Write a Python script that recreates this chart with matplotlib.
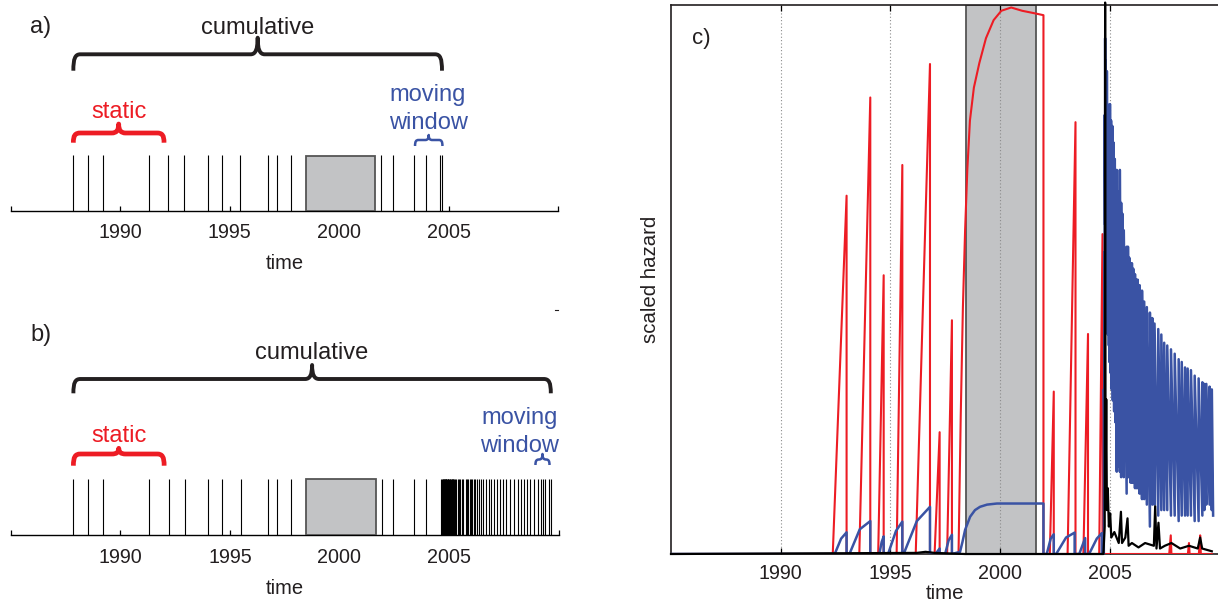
import matplotlib.pyplot as plt
from matplotlib.path import Path
from matplotlib.patches import PathPatch, Rectangle

W, H = 1218, 602

RED = '#ed1c24'
BLUE = '#3a53a4'
INK = '#231f20'
GAP_FACE = '#c2c3c5'
GAP_EDGE = '#555555'

# event times shared by panels a and b
events_early = [1987.86, 1988.54, 1989.23, 1991.33, 1992.20, 1992.93, 1994.00,
                1994.66, 1995.49, 1996.73, 1997.17, 1997.79, 2001.92, 2002.44,
                2003.40, 2003.95, 2004.62, 2004.69]
# later events, only in panel b
events_late = [2004.72, 2004.74, 2004.76, 2004.78, 2004.80, 2004.82, 2004.84,
               2004.86, 2004.88, 2004.90, 2004.93, 2004.95, 2004.97, 2005.00,
               2005.03, 2005.05, 2005.08, 2005.11, 2005.13, 2005.16, 2005.19,
               2005.22, 2005.25, 2005.31, 2005.39, 2005.45, 2005.51, 2005.57,
               2005.63, 2005.76, 2005.82, 2005.88, 2005.94, 2006.00, 2006.06,
               2006.14, 2006.20, 2006.26, 2006.35, 2006.46, 2006.56, 2006.68,
               2006.82, 2006.93, 2007.03, 2007.20, 2007.34, 2007.47, 2007.61,
               2007.78, 2007.95, 2008.13, 2008.27, 2008.42, 2008.54, 2008.69,
               2008.86, 2009.04, 2009.21, 2009.30, 2009.39, 2009.54, 2009.64]
gap = (1998.46, 2001.65)
static_win = (1987.86, 1992.0)
window_a = (2003.46, 2004.71)
window_b = (2008.94, 2009.58)
xticks = [1985, 1990, 1995, 2000, 2005, 2010]
xticklabels = ['', '1990', '1995', '2000', '2005', '']

# hazard curves for panel c (time, scaled value)
red_t = [1985.0, 1992.37, 1993.00, 1993.00, 1993.58, 1994.08, 1994.08, 1994.44,
         1994.69, 1994.69, 1995.28, 1995.54, 1995.54, 1996.15, 1996.80, 1996.80,
         1997.01, 1997.24, 1997.24, 1997.58, 1997.80, 1997.80, 1998.10, 1998.20,
         1998.30, 1998.40, 1998.50, 1998.62, 1998.80, 1999.05, 1999.35, 1999.70,
         2000.05, 2000.50, 2001.00, 2001.50, 2001.97, 2001.97, 2002.26, 2002.44,
         2002.44, 2003.07, 2003.43, 2003.43, 2003.79, 2004.00, 2004.00, 2004.51,
         2004.66, 2004.66, 2007.70, 2007.77, 2007.80, 2008.55, 2008.60, 2008.63,
         2009.05, 2009.11, 2009.14, 2009.64]
red_v = [0.0, 0.0, 0.653, 0.0, 0.0, 0.832, 0.0, 0.0,
         0.508, 0.0, 0.0, 0.709, 0.0, 0.0, 0.893, 0.0,
         0.0, 0.222, 0.0, 0.0, 0.426, 0.0, 0.0, 0.25,
         0.45, 0.59, 0.70, 0.79, 0.85, 0.895, 0.94, 0.973,
         0.99, 0.996, 0.99, 0.986, 0.982, 0.0, 0.0, 0.296,
         0.0, 0.0, 0.787, 0.0, 0.0, 0.401, 0.0, 0.0,
         0.583, 0.0, 0.0, 0.034, 0.0, 0.0, 0.02, 0.0,
         0.0, 0.034, 0.0, 0.0]

blue_t = [1985.0, 1992.46, 1992.75, 1993.00, 1993.00, 1993.13, 1993.60, 1994.08,
          1994.08, 1994.49, 1994.60, 1994.69, 1994.69, 1994.89, 1995.25, 1995.54,
          1995.54, 1995.60, 1996.20, 1996.80, 1996.80, 1997.05, 1997.24, 1997.24,
          1997.49, 1997.65, 1997.80, 1997.80, 1998.17, 1998.28, 1998.40, 1998.63,
          1998.85, 1999.08, 1999.40, 1999.85, 2001.97, 2001.97, 2002.12, 2002.30,
          2002.44, 2002.44, 2002.55, 2003.00, 2003.39, 2003.39, 2003.60, 2003.87,
          2003.87, 2004.05, 2004.40, 2004.63, 2004.63]
blue_v = [0.0, 0.0, 0.028, 0.0395, 0.0, 0.0, 0.045, 0.060,
          0.0, 0.0, 0.022, 0.032, 0.0, 0.0, 0.042, 0.059,
          0.0, 0.0, 0.060, 0.086, 0.0, 0.0, 0.010, 0.0,
          0.0, 0.025, 0.035, 0.0, 0.004, 0.022, 0.044, 0.068,
          0.080, 0.086, 0.090, 0.092, 0.092, 0.0, 0.0, 0.028,
          0.036, 0.0, 0.0, 0.030, 0.039, 0.0, 0.0, 0.029,
          0.0, 0.0, 0.028, 0.038, 0.0]
# moving-window hazard after the 2004 cluster: level just after each
# late event and the level it has decayed to before the next one
blue_peak = [0.30, 0.55, 0.80, 0.94, 0.90, 0.85, 0.75, 0.88, 0.82, 0.70,
             0.80, 0.78, 0.72, 0.82, 0.70, 0.79, 0.72, 0.78, 0.66, 0.75,
             0.70, 0.72, 0.68, 0.70, 0.66, 0.70, 0.64, 0.62, 0.59, 0.56,
             0.56, 0.54, 0.53, 0.53, 0.52, 0.51, 0.50, 0.50, 0.49, 0.48,
             0.46, 0.45, 0.44, 0.43, 0.42, 0.41, 0.40, 0.385, 0.38, 0.373,
             0.365, 0.355, 0.35, 0.34, 0.338, 0.335, 0.325, 0.32, 0.313, 0.31,
             0.31, 0.305, 0.30]
blue_trough = [0.25, 0.45, 0.60, 0.55, 0.50, 0.45, 0.50, 0.42, 0.40, 0.45,
               0.38, 0.35, 0.40, 0.33, 0.36, 0.30, 0.34, 0.28, 0.30, 0.26,
               0.28, 0.24, 0.15, 0.16, 0.15, 0.14, 0.15, 0.14, 0.11, 0.14,
               0.14, 0.13, 0.13, 0.13, 0.12, 0.12, 0.12, 0.11, 0.10, 0.10,
               0.09, 0.05, 0.09, 0.09, 0.07, 0.08, 0.08, 0.08, 0.07, 0.07,
               0.06, 0.07, 0.07, 0.07, 0.07, 0.06, 0.06, 0.07, 0.08, 0.09,
               0.09, 0.08, 0.07]

black_t = [1985.0, 1996.20, 1996.60, 1997.00, 1998.40, 2004.70, 2004.76, 2004.78,
           2004.80, 2004.83, 2004.86, 2004.90, 2004.95, 2005.01, 2005.06, 2005.20,
           2005.40, 2005.50, 2005.55, 2005.70, 2005.80, 2005.85, 2006.00, 2006.30,
           2006.60, 2007.00, 2007.06, 2007.12, 2007.21, 2007.28, 2007.50, 2007.80,
           2008.20, 2008.60, 2009.00, 2009.11, 2009.20, 2009.64]
black_v = [0.0, 0.002, 0.004, 0.002, 0.0, 0.0, 0.05, 1.005,
           0.10, 0.282, 0.08, 0.12, 0.05, 0.074, 0.03, 0.04,
           0.02, 0.077, 0.02, 0.03, 0.065, 0.015, 0.02, 0.012,
           0.02, 0.015, 0.087, 0.01, 0.057, 0.01, 0.015, 0.02,
           0.01, 0.015, 0.01, 0.03, 0.01, 0.005]

plt.rcParams['font.family'] = ['Liberation Sans', 'DejaVu Sans']

fig = plt.figure(figsize=(W / 100, H / 100), dpi=100)


def px_axes(left, top, right, bottom):
    return fig.add_axes([left / W, 1 - bottom / H, (right - left) / W, (bottom - top) / H])


def brace(ax, x0, x1, base, rise, tip, color, lw, curl=8.0):
    # curly brace drawn in (year, px-above-axis) coordinates
    kx = (ax.get_xlim()[1] - ax.get_xlim()[0]) / ax.bbox.width
    L = (x1 - x0) / kx
    m = L / 2
    c = min(curl, L / 4)
    pts = [(0, 0), (0, rise * 0.75), (c * 0.25, rise), (c, rise),
           (m - c, rise),
           (m - c * 0.3, rise), (m, rise + tip * 0.3), (m, rise + tip),
           (m, rise + tip * 0.3), (m + c * 0.3, rise), (m + c, rise),
           (L - c, rise),
           (L - c * 0.25, rise), (L, rise * 0.75), (L, 0)]
    codes = [Path.MOVETO, Path.CURVE4, Path.CURVE4, Path.CURVE4, Path.LINETO,
             Path.CURVE4, Path.CURVE4, Path.CURVE4, Path.CURVE4, Path.CURVE4,
             Path.CURVE4, Path.LINETO, Path.CURVE4, Path.CURVE4, Path.CURVE4]
    verts = [(x0 + X * kx, base + Y) for X, Y in pts]
    ax.add_patch(PathPatch(Path(verts, codes), fill=False, edgecolor=color,
                           lw=lw, capstyle='butt', joinstyle='round'))


def timeline(ax, height, events, label, win, win_txt_x, ys):
    ax.set_xlim(1985, 2010)
    ax.set_ylim(0, height)
    for s in ['top', 'left', 'right']:
        ax.spines[s].set_visible(False)
    ax.spines['bottom'].set_linewidth(1.0)
    ax.set_yticks([])
    ax.set_xticks(xticks)
    ax.set_xticklabels(xticklabels, fontsize=14.2, color=INK)
    ax.tick_params(axis='x', direction='in', length=3.5, width=0.9, pad=9)
    ax.set_xlabel('time', fontsize=14.5, color=INK, labelpad=8.5)
    ax.vlines(events, 0, ys['ev'], color='black', lw=0.8)
    ax.add_patch(Rectangle((gap[0], 0), gap[1] - gap[0], ys['ev'] - 0.5,
                           facecolor=GAP_FACE, edgecolor=GAP_EDGE, lw=1.3, zorder=3))
    first, last = events[0], events[-1]
    brace(ax, first, last, *ys['cum'], INK, 2.8, curl=7)
    ax.text((first + last) / 2, ys['cum_txt'], 'cumulative', fontsize=17,
            color=INK, ha='center', va='center')
    brace(ax, static_win[0], static_win[1], *ys['static'], RED, 3.4, curl=7)
    ax.text(sum(static_win) / 2, ys['static_txt'], 'static', fontsize=17,
            color=RED, ha='center', va='center')
    brace(ax, win[0], win[1], *ys['win'], BLUE, 1.8, curl=3.5)
    ax.text(win_txt_x, ys['mov_txt'], 'moving', fontsize=17, color=BLUE,
            ha='center', va='center')
    ax.text(win_txt_x, ys['win_txt'], 'window', fontsize=17, color=BLUE,
            ha='center', va='center')
    ax.text(1986.37, ys['lab'], label, fontsize=17, color=INK, ha='center', va='center')


# panel a
ax_a = px_axes(10.7, 0, 558.3, 210.7)
timeline(ax_a, 210.7, events_early, 'a)', window_a, 2004.05,
         dict(ev=55.7, cum=(140, 16.4, 16.6), cum_txt=182.5, static=(68, 9.7, 9.0),
              static_txt=98.5, win=(64.7, 6.0, 5.0), mov_txt=116, win_txt=87.5,
              lab=184))

# panel b
ax_b = px_axes(10.7, 300, 558.7, 535.3)
timeline(ax_b, 235.3, events_early + events_late, 'b)', window_b, 2008.22,
         dict(ev=56.3, cum=(142, 14.3, 14.0), cum_txt=182, static=(69.6, 11.7, 5.7),
              static_txt=99, win=(70.3, 5.5, 5.5), mov_txt=117, win_txt=88.8,
              lab=200.5))
ax_b.plot([2009.82, 2009.98], [225.3, 225.3], color=INK, lw=0.8, clip_on=False)

# moving-window curve: early teeth, then a vertical jump at every late
# event followed by a decay until the next one
bt, bv = list(blue_t), list(blue_v)
for i, t in enumerate(events_late):
    t_next = events_late[i + 1] if i + 1 < len(events_late) else 2009.70
    bt += [t, t, t_next]
    bv += [bv[-1], blue_peak[i], blue_trough[i]]

# panel c
ax_c = px_axes(671, 5.3, 1219.7, 554)
ax_c.set_xlim(1985, 2010)
ax_c.set_ylim(0, 1)
ax_c.add_patch(Rectangle((gap[0], 0), gap[1] - gap[0], 1.0, facecolor=GAP_FACE,
                         edgecolor=GAP_EDGE, lw=1.3, zorder=1))
for t in xticks[1:-1]:
    ax_c.axvline(t, color='#8c8c8c', lw=0.8, ls=(0, (1, 2)), zorder=1.5)
ax_c.plot(red_t, red_v, color=RED, lw=1.5, zorder=3)
ax_c.plot(bt, bv, color=BLUE, lw=1.8, zorder=4)
ax_c.plot(black_t, black_v, color='black', lw=1.6, zorder=5, clip_on=False)
for s in ax_c.spines.values():
    s.set_linewidth(1.2)
    s.set_color(INK)
ax_c.set_yticks([])
ax_c.set_xticks(xticks[1:-1])
ax_c.set_xticklabels(xticklabels[1:-1], fontsize=14.2, color=INK)
ax_c.tick_params(axis='x', direction='in', top=True, length=4, width=0.9, pad=7)
ax_c.set_xlabel('time', fontsize=14.7, color=INK, labelpad=1)
ax_c.set_ylabel('scaled hazard', fontsize=14.7, color=INK, labelpad=8)
ax_c.text(0.056, 0.94, 'c)', transform=ax_c.transAxes, fontsize=16, color=INK,
          ha='center', va='center')

fig.savefig('out.png', dpi=100)
